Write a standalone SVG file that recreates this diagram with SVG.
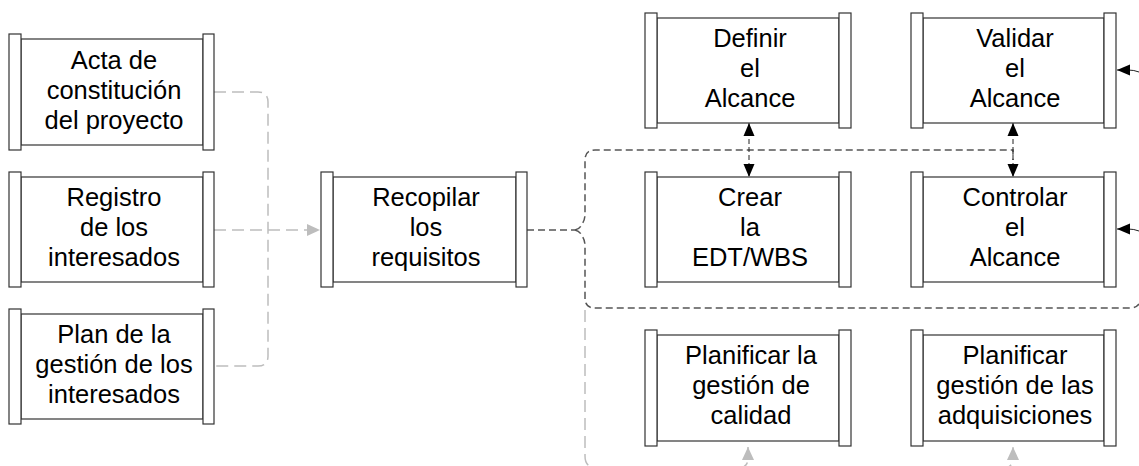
<svg xmlns="http://www.w3.org/2000/svg" width="1139" height="466" viewBox="0 0 1139 466">
<defs>
<style>
.bar{fill:#fff;stroke:#333;stroke-width:1.2}
.t{font-family:"Liberation Sans",Arial,sans-serif;font-size:25.5px;fill:#000;text-anchor:middle}
.lg{fill:none;stroke:#bdbdbd;stroke-width:1.5;stroke-dasharray:12 6}
.dg{fill:none;stroke:#555;stroke-width:1.5;stroke-dasharray:7 4}
.bk{fill:none;stroke:#222;stroke-width:1;stroke-dasharray:5 3}
.sl{fill:none;stroke:#222;stroke-width:1}
</style>
<marker id="ag" markerUnits="userSpaceOnUse" markerWidth="15" markerHeight="13" refX="13" refY="6" orient="auto"><path d="M0,0 L13,6 L0,12 Z" fill="#bdbdbd"/></marker>
<marker id="ab" markerUnits="userSpaceOnUse" markerWidth="15" markerHeight="13" refX="13" refY="5.5" orient="auto"><path d="M0,0 L13,5.5 L0,11 Z" fill="#000"/></marker>
<marker id="abs" markerUnits="userSpaceOnUse" markerWidth="15" markerHeight="13" refX="0" refY="5.5" orient="auto"><path d="M13,0 L0,5.5 L13,11 Z" fill="#000"/></marker>
</defs>
<rect width="1139" height="466" fill="#fff"/>

<g id="connectors">
<path class="lg" d="M214 92 H258 Q268 92 268 102 V356 Q268 366 258 366 H214"/>
<path class="lg" d="M214 230 H320" marker-end="url(#ag)"/>
<path class="dg" d="M527 230 H575"/>
<path class="dg" d="M575 230 Q580 229 582 224 Q585 220 585 214 V160 Q585 150 595 150 H1013 V160"/>
<path class="dg" d="M575 230 Q580 231 582 236 Q585 240 585 246 V298 Q585 308 595 308 H1130 Q1136 308 1139 304"/>
<path class="lg" d="M585 310 V456 Q585 468 597 468 H738 Q748 468 748 458 V447" marker-end="url(#ag)"/>
<path class="lg" d="M748 468 H1003 Q1013 468 1013 458 V447" marker-end="url(#ag)"/>
<path class="bk" d="M749 123 V177" marker-start="url(#abs)" marker-end="url(#ab)"/>
<path class="bk" d="M1013 123 V177" marker-start="url(#abs)" marker-end="url(#ab)"/>
<path class="sl" d="M1139 72 Q1134 70 1128 70 H1117" marker-end="url(#ab)"/>
<path class="sl" d="M1139 231 Q1134 229 1128 229 H1117" marker-end="url(#ab)"/>
</g>

<g id="acta">
<rect class="bar" x="21" y="39" width="182" height="106"/>
<rect class="bar" x="9" y="34" width="12" height="116"/>
<rect class="bar" x="203" y="34" width="11" height="116"/>
<text class="t" x="114" y="68.5">Acta de</text>
<text class="t" x="114" y="98.5">constitución</text>
<text class="t" x="114" y="128.5">del proyecto</text>
</g>

<g id="registro">
<rect class="bar" x="21" y="177" width="182" height="105"/>
<rect class="bar" x="9" y="172" width="12" height="115"/>
<rect class="bar" x="203" y="172" width="11" height="115"/>
<text class="t" x="114" y="205.5">Registro</text>
<text class="t" x="114" y="235.5">de los</text>
<text class="t" x="114" y="265.5">interesados</text>
</g>

<g id="plan">
<rect class="bar" x="21" y="314" width="182" height="105"/>
<rect class="bar" x="9" y="309" width="12" height="115"/>
<rect class="bar" x="203" y="309" width="11" height="115"/>
<text class="t" x="114" y="342.5">Plan de la</text>
<text class="t" x="114" y="372.5">gestión de los</text>
<text class="t" x="114" y="402.5">interesados</text>
</g>

<g id="recopilar">
<rect class="bar" x="333" y="177" width="183" height="105"/>
<rect class="bar" x="321" y="172" width="12" height="115"/>
<rect class="bar" x="516" y="172" width="11" height="115"/>
<text class="t" x="426" y="205.5">Recopilar</text>
<text class="t" x="426" y="235.5">los</text>
<text class="t" x="426" y="265.5">requisitos</text>
</g>

<g id="definir">
<rect class="bar" x="657" y="18" width="182" height="105"/>
<rect class="bar" x="645" y="13" width="12" height="115"/>
<rect class="bar" x="839" y="13" width="12" height="115"/>
<text class="t" x="750" y="46.5">Definir</text>
<text class="t" x="750" y="76.5">el</text>
<text class="t" x="750" y="106.5">Alcance</text>
</g>

<g id="validar">
<rect class="bar" x="923" y="18" width="181" height="105"/>
<rect class="bar" x="911" y="13" width="12" height="115"/>
<rect class="bar" x="1104" y="13" width="12" height="115"/>
<text class="t" x="1015" y="46.5">Validar</text>
<text class="t" x="1015" y="76.5">el</text>
<text class="t" x="1015" y="106.5">Alcance</text>
</g>

<g id="crear">
<rect class="bar" x="657" y="177" width="182" height="105"/>
<rect class="bar" x="645" y="172" width="12" height="115"/>
<rect class="bar" x="839" y="172" width="12" height="115"/>
<text class="t" x="750" y="205.5">Crear</text>
<text class="t" x="750" y="235.5">la</text>
<text class="t" x="750" y="265.5">EDT/WBS</text>
</g>

<g id="controlar">
<rect class="bar" x="923" y="177" width="181" height="105"/>
<rect class="bar" x="911" y="172" width="12" height="115"/>
<rect class="bar" x="1104" y="172" width="12" height="115"/>
<text class="t" x="1015" y="205.5">Controlar</text>
<text class="t" x="1015" y="235.5">el</text>
<text class="t" x="1015" y="265.5">Alcance</text>
</g>

<g id="planificar-calidad">
<rect class="bar" x="657" y="335" width="182" height="106"/>
<rect class="bar" x="645" y="330" width="12" height="116"/>
<rect class="bar" x="839" y="330" width="12" height="116"/>
<text class="t" x="751" y="363.5">Planificar la</text>
<text class="t" x="751" y="393.5">gestión de</text>
<text class="t" x="751" y="423.5">calidad</text>
</g>

<g id="planificar-adquisiciones">
<rect class="bar" x="923" y="335" width="181" height="106"/>
<rect class="bar" x="911" y="330" width="12" height="116"/>
<rect class="bar" x="1104" y="330" width="12" height="116"/>
<text class="t" x="1015" y="363.5">Planificar</text>
<text class="t" x="1015" y="393.5">gestión de las</text>
<text class="t" x="1015" y="423.5">adquisiciones</text>
</g>
</svg>
